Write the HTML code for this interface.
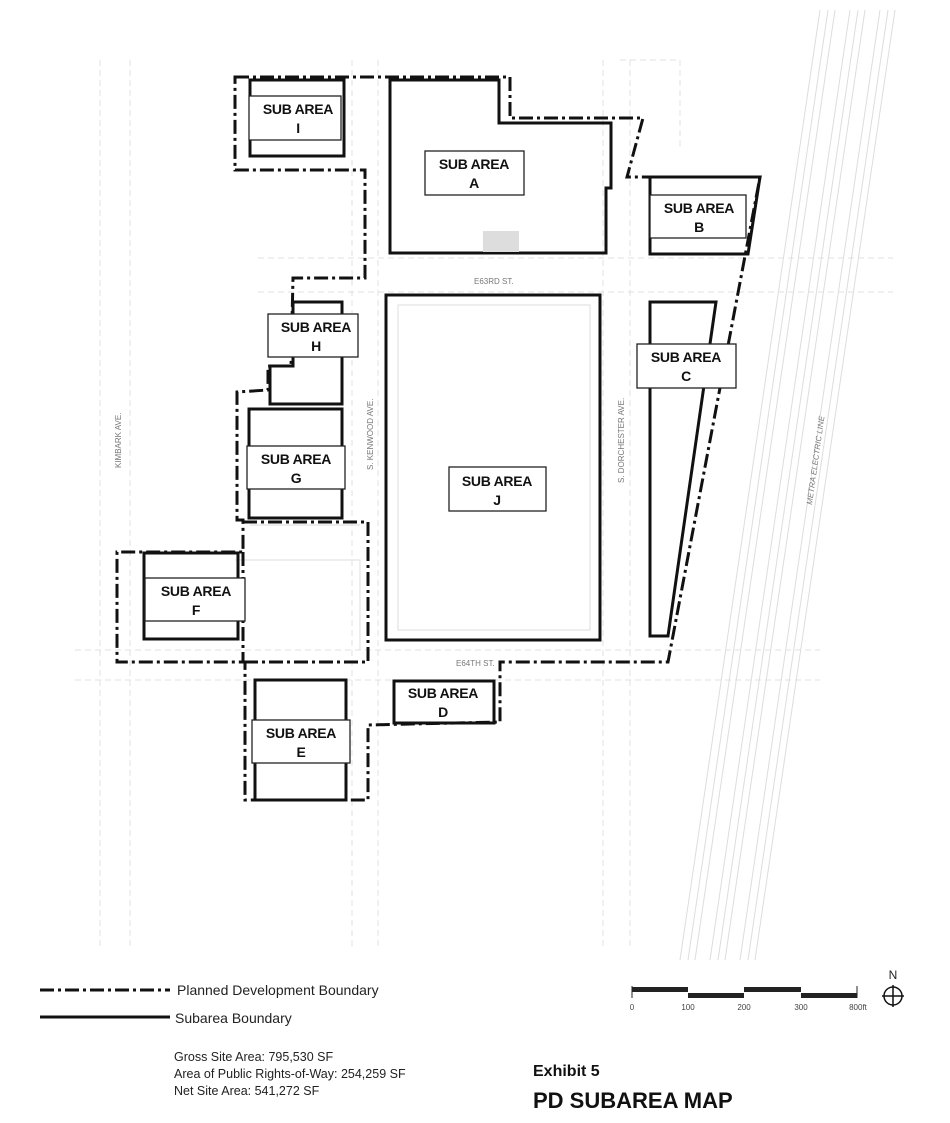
<!DOCTYPE html>
<html><head><meta charset="utf-8"><style>
body{margin:0;background:#fff;}
svg{display:block;font-family:"Liberation Sans",Arial,sans-serif;}
.sa{fill:none;stroke:#111;stroke-width:3;}
.lb{fill:#fff;stroke:#222;stroke-width:1.3;}
.t{font-weight:bold;font-size:14px;fill:#111;text-anchor:middle;letter-spacing:-0.3px;}
.pd{fill:none;stroke:#111;stroke-width:3;stroke-dasharray:14 4 3 4;}
.g{fill:none;stroke:#ddd;stroke-width:1;}
.gd{fill:none;stroke:#e0e0e0;stroke-width:1;stroke-dasharray:6 4;}
.st{font-size:8px;fill:#777;}
</style></head><body>
<svg width="950" height="1123" viewBox="0 0 950 1123">
<g class="gd">
<path d="M258,258 H893 M258,292 H893"/>
<path d="M75,650 H820 M75,680 H820"/>
<path d="M352,60 V950 M378,60 V950"/>
<path d="M603,60 V950 M630,60 V950"/>
<path d="M100,60 V950 M130,60 V950"/>
<path d="M620,60 H680 V150"/>
</g>
<g class="g">
<path d="M820,10 L680,960 M835,10 L695,960 M850,10 L710,960 M865,10 L725,960 M880,10 L740,960 M895,10 L755,960"/>
<path d="M828,10 L688,960 M858,10 L718,960 M888,10 L748,960"/>
<rect x="398" y="305" width="192" height="325"/>
<path d="M235,560 H360 V650 M250,525 H360"/>
</g>
<path class="pd" d="M235,77 L510,77 L510,118 L643,118 L627,177 L760,177 L668,662 L500,662 L500,722 L368,725 L368,800 L245,800 L245,662 L117,662 L117,552 L243,552 L243,520 L237,520 L237,392 L268,390 L268,366 L291,366 L293,278 L365,278 L365,170 L235,170 Z"/>
<path class="pd" d="M243,522 L368,522 L368,662 L245,662 M243,552 L243,662"/>
<rect class="sa" x="250" y="80" width="94" height="76"/>
<path class="sa" d="M390,80 L499,80 L499,123 L611,123 L611,188 L606,188 L606,253 L390,253 Z"/>
<rect x="483" y="231" width="36" height="21" fill="#ddd"/>
<path class="sa" d="M650,177 L760,177 L748,254 L650,254 Z"/>
<path class="sa" d="M293,302 L342,302 L342,404 L270,404 L270,366 L293,366 Z"/>
<rect class="sa" x="249" y="409" width="93" height="109"/>
<rect class="sa" x="386" y="295" width="214" height="345"/>
<path class="sa" d="M650,302 L716,302 L668,636 L650,636 Z"/>
<rect class="sa" x="144" y="553" width="94" height="86"/>
<rect class="sa" x="255" y="680" width="91" height="120"/>
<rect class="sa" x="394" y="681" width="100" height="42"/>
<rect class="lb" x="249" y="96" width="92" height="44"/><text class="t" x="298" y="114">SUB AREA</text><text class="t" x="298" y="133">I</text>
<rect class="lb" x="425" y="151" width="99" height="44"/><text class="t" x="474" y="169">SUB AREA</text><text class="t" x="474" y="188">A</text>
<rect class="lb" x="650" y="195" width="96" height="43"/><text class="t" x="699" y="213">SUB AREA</text><text class="t" x="699" y="232">B</text>
<rect class="lb" x="268" y="314" width="90" height="43"/><text class="t" x="316" y="332">SUB AREA</text><text class="t" x="316" y="351">H</text>
<rect class="lb" x="247" y="446" width="98" height="43"/><text class="t" x="296" y="464">SUB AREA</text><text class="t" x="296" y="483">G</text>
<rect class="lb" x="449" y="467" width="97" height="44"/><text class="t" x="497" y="486">SUB AREA</text><text class="t" x="497" y="505">J</text>
<rect class="lb" x="637" y="344" width="99" height="44"/><text class="t" x="686" y="362">SUB AREA</text><text class="t" x="686" y="381">C</text>
<rect class="lb" x="145" y="578" width="100" height="43"/><text class="t" x="196" y="596">SUB AREA</text><text class="t" x="196" y="615">F</text>
<rect class="lb" x="252" y="720" width="98" height="43"/><text class="t" x="301" y="738">SUB AREA</text><text class="t" x="301" y="757">E</text>
<text class="t" x="443" y="698">SUB AREA</text><text class="t" x="443" y="717">D</text>
<text class="st" x="474" y="284">E63RD ST.</text>
<text class="st" x="456" y="666">E64TH ST.</text>
<text class="st" transform="translate(373,470) rotate(-90)">S. KENWOOD AVE.</text>
<text class="st" transform="translate(624,483) rotate(-90)">S. DORCHESTER  AVE.</text>
<text class="st" transform="translate(121,468) rotate(-90)">KIMBARK AVE.</text>
<text class="st" font-style="italic" transform="translate(812,505) rotate(-82)">METRA ELECTRIC LINE</text>
<path class="pd" d="M40,990 H170"/>
<text x="177" y="995" font-size="14" fill="#222">Planned Development Boundary</text>
<path d="M40,1017 H170" stroke="#111" stroke-width="3"/>
<text x="175" y="1023" font-size="14" fill="#222">Subarea Boundary</text>
<text x="174" y="1061" font-size="12.5" fill="#222">Gross Site Area: 795,530 SF</text>
<text x="174" y="1078" font-size="12.5" fill="#222">Area of Public Rights-of-Way: 254,259 SF</text>
<text x="174" y="1095" font-size="12.5" fill="#222">Net Site Area: 541,272 SF</text>
<text x="533" y="1076" font-size="16" font-weight="bold" fill="#111">Exhibit 5</text>
<text x="533" y="1108" font-size="22" font-weight="bold" fill="#111">PD SUBAREA MAP</text>
<rect x="632" y="987" width="56" height="5" fill="#222"/>
<rect x="688" y="993" width="56" height="5" fill="#222"/>
<rect x="744" y="987" width="57" height="5" fill="#222"/>
<rect x="801" y="993" width="56" height="5" fill="#222"/>
<path d="M632,986 V998 M857,986 V998" stroke="#222"/>
<g font-size="8" fill="#444" text-anchor="middle">
<text x="632" y="1010">0</text><text x="688" y="1010">100</text><text x="744" y="1010">200</text><text x="801" y="1010">300</text><text x="858" y="1010">800ft</text></g>
<text x="893" y="979" font-size="12" text-anchor="middle" fill="#222">N</text>
<circle cx="893" cy="996" r="9" fill="none" stroke="#111" stroke-width="1.5"/>
<path d="M893,985 V1007 M882,996 H904" stroke="#111" stroke-width="1.5"/>
</svg>
</body></html>
